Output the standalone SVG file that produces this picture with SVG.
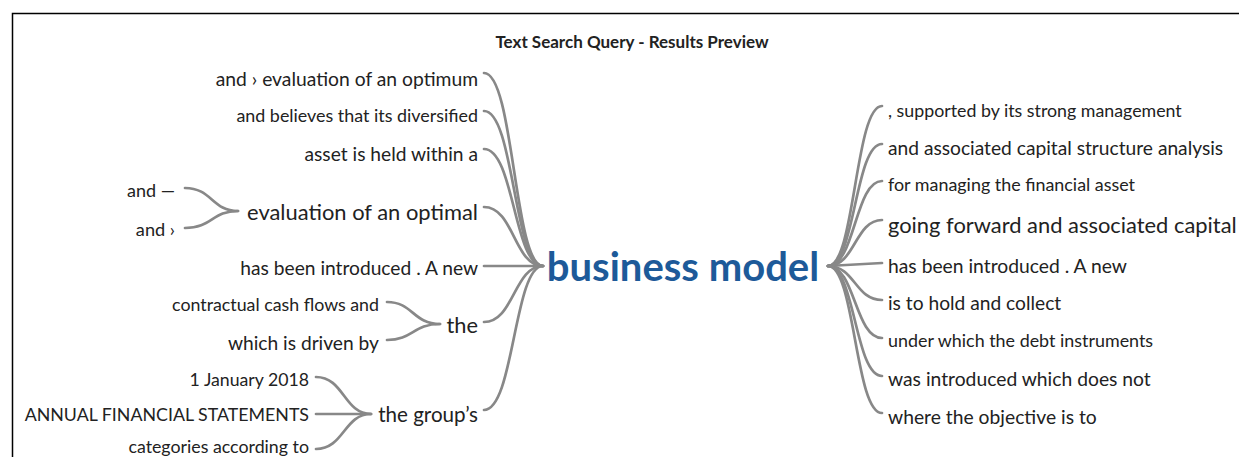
<svg xmlns="http://www.w3.org/2000/svg" width="1239" height="457" viewBox="0 0 1239 457">
<style>
.t{font-family:Lato,"Liberation Sans",sans-serif;fill:#222;dominant-baseline:central}
.l{text-anchor:end}
.c{fill:none;stroke:#888;stroke-width:2.7;stroke-linecap:round}
</style>
<rect x="0" y="0" width="1239" height="457" fill="#fff"/>
<path d="M12.5,470 V13.5 H1250" fill="none" stroke="#000" stroke-width="1.5"/>
<text x="632" y="41" class="t" style="font-weight:bold;font-size:17px;text-anchor:middle" fill="#000">Text Search Query - Results Preview</text>
<g id="connectors">
<path class="c" d="M484,73 C514,73 514,266 543,266"/>
<path class="c" d="M484,111 C514,111 514,266 543,266"/>
<path class="c" d="M484,149 C514,149 514,266 543,266"/>
<path class="c" d="M484,207 C514,207 514,266 543,266"/>
<path class="c" d="M484,266 L543,266"/>
<path class="c" d="M484,322 C514,322 514,266 543,266"/>
<path class="c" d="M484,410 C514,410 514,266 543,266"/>
<path class="c" d="M185,188 C212,188 212,211 238,211"/>
<path class="c" d="M185,228 C212,228 212,211 238,211"/>
<path class="c" d="M387,302 C413,302 413,324 440,324"/>
<path class="c" d="M387,340 C413,340 413,324 440,324"/>
<path class="c" d="M316,377 C344,377 344,414 371,414"/>
<path class="c" d="M316,414 L371,414"/>
<path class="c" d="M316,449 C344,449 344,414 371,414"/>
<path class="c" d="M828,266 C855,266 855,106 882,106"/>
<path class="c" d="M828,266 C855,266 855,144 882,144"/>
<path class="c" d="M828,266 C855,266 855,181 882,181"/>
<path class="c" d="M828,266 C855,266 855,220 882,220"/>
<path class="c" d="M828,266 L882,263"/>
<path class="c" d="M828,266 C855,266 855,300 882,300"/>
<path class="c" d="M828,266 C855,266 855,338 882,338"/>
<path class="c" d="M828,266 C855,266 855,376 882,376"/>
<path class="c" d="M828,266 C855,266 855,413 882,413"/>
</g>
<g id="center"><text x="683" y="266" class="t" style="font-weight:bold;font-size:40px;text-anchor:middle;fill:#1d5a99">business model</text></g>
<g id="l1"><text x="478" y="78" class="t l" style="font-size:19.3px">and › evaluation of an optimum</text></g>
<g id="l2"><text x="478" y="115" class="t l" style="font-size:17.9px">and believes that its diversified</text></g>
<g id="l3"><text x="478" y="153" class="t l" style="font-size:19.2px">asset is held within a</text></g>
<g id="l4"><text x="478" y="211" class="t l" style="font-size:21.9px">evaluation of an optimal</text></g>
<g id="l4a"><text x="175" y="190" class="t l" style="font-size:18px">and —</text></g>
<g id="l4b"><text x="175" y="229" class="t l" style="font-size:18.2px">and ›</text></g>
<g id="l5"><text x="478" y="267" class="t l" style="font-size:19.2px">has been introduced . A new</text></g>
<g id="l6"><text x="478" y="324" class="t l" style="font-size:21.8px">the</text></g>
<g id="l6a"><text x="379" y="304" class="t l" style="font-size:17.8px">contractual cash flows and</text></g>
<g id="l6b"><text x="379" y="342" class="t l" style="font-size:19.2px">which is driven by</text></g>
<g id="l7"><text x="478" y="414" class="t l" style="font-size:20.6px">the group’s</text></g>
<g id="l7a"><text x="309" y="379" class="t l" style="font-size:17.7px">1 January 2018</text></g>
<g id="l7b"><text x="309" y="414" class="t l" style="font-size:17.8px">ANNUAL FINANCIAL STATEMENTS</text></g>
<g id="l7c"><text x="309" y="446" class="t l" style="font-size:17.8px">categories according to</text></g>
<g id="r1"><text x="888" y="110" class="t" style="font-size:17.8px">, supported by its strong management</text></g>
<g id="r2"><text x="888" y="147" class="t" style="font-size:19.2px">and associated capital structure analysis</text></g>
<g id="r3"><text x="888" y="184" class="t" style="font-size:17.9px">for managing the financial asset</text></g>
<g id="r4"><text x="888" y="224" class="t" style="font-size:21.9px">going forward and associated capital</text></g>
<g id="r5"><text x="888" y="265" class="t" style="font-size:19.3px">has been introduced . A new</text></g>
<g id="r6"><text x="888" y="302" class="t" style="font-size:19.2px">is to hold and collect</text></g>
<g id="r7"><text x="888" y="340" class="t" style="font-size:17.9px">under which the debt instruments</text></g>
<g id="r8"><text x="888" y="378" class="t" style="font-size:19.3px">was introduced which does not</text></g>
<g id="r9"><text x="888" y="416" class="t" style="font-size:19.3px">where the objective is to</text></g>
</svg>
